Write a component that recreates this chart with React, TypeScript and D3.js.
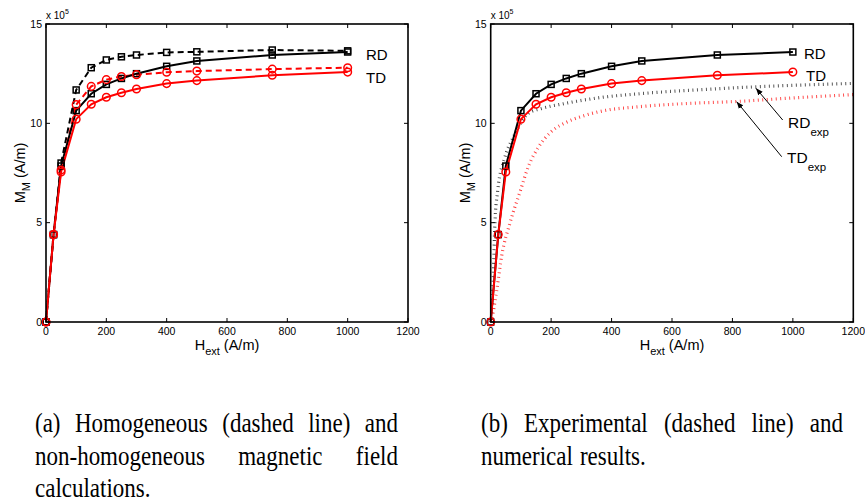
import React, { useEffect, useRef } from "react";
import * as d3 from "d3";

// Data (M in units of 1e5 A/m)
const H = [0, 25, 50, 100, 150, 200, 250, 300, 400, 500, 750, 1000];
const rdHom = [0, 4.4, 8.0, 11.68, 12.8, 13.19, 13.35, 13.44, 13.57, 13.6, 13.69, 13.65];
const rdNum = [0, 4.4, 7.85, 10.64, 11.49, 11.96, 12.26, 12.5, 12.87, 13.14, 13.44, 13.59];
const tdHom = [0, 4.4, 7.65, 10.94, 11.86, 12.2, 12.36, 12.45, 12.57, 12.63, 12.73, 12.8];
const tdNum = [0, 4.4, 7.55, 10.21, 10.96, 11.31, 11.54, 11.73, 12.0, 12.15, 12.42, 12.58];

const rdExpH = [0, 3, 9, 14, 23, 47, 75, 124, 169, 246, 345, 500, 700, 880, 1200];
const rdExpM = [0, 0.45, 2.6, 5.0, 6.6, 8.3, 9.3, 10.5, 10.75, 11.0, 11.26, 11.5, 11.7, 11.84, 12.01];
const tdExpH = [0, 5, 20, 36, 64, 97, 124, 158, 202, 257, 312, 369, 494, 650, 814, 1000, 1200];
const tdExpM = [0, 0.27, 1.6, 3.3, 5.0, 6.55, 7.8, 8.8, 9.6, 10.1, 10.4, 10.62, 10.84, 11.0, 11.1, 11.28, 11.45];

const xTicks = [0, 200, 400, 600, 800, 1000, 1200];
const yTicks = [0, 5, 10, 15];

const captionA = [
  ["(a)", "Homogeneous", "(dashed", "line)", "and"],
  ["non-homogeneous", "magnetic", "field"],
  ["calculations."],
];
const captionB = [
  ["(b)", "Experimental", "(dashed", "line)", "and"],
  ["numerical", "results."],
];

const SANS = "Liberation Sans, Arial, Helvetica, sans-serif";
const SERIF = "Liberation Serif, Times New Roman, serif";

const Y_TOP = 24;
const Y_BOT = 322;

type PanelProps = { x0: number; x1: number; hom: boolean; exp: boolean };

function Panel({ x0, x1, hom, exp }: PanelProps) {
  const x = d3.scaleLinear().domain([0, 1200]).range([x0, x1]);
  const y = d3.scaleLinear().domain([0, 15]).range([Y_BOT, Y_TOP]);
  const line = d3
    .line<[number, number]>()
    .x((d) => x(d[0]))
    .y((d) => y(d[1]));
  const smooth = d3
    .line<[number, number]>()
    .x((d) => x(d[0]))
    .y((d) => y(d[1]))
    .curve(d3.curveMonotoneX);
  const pts = (vals: number[]) => H.map((h, i) => [h, vals[i]] as [number, number]);
  const tk = 4;

  const squares = (vals: number[], key: string) =>
    pts(vals).map((p, i) => (
      <rect
        key={key + i}
        x={x(p[0]) - 3}
        y={y(p[1]) - 3}
        width={6}
        height={6}
        fill="none"
        stroke="#000"
        strokeWidth={1.5}
      />
    ));
  const circles = (vals: number[], key: string) =>
    pts(vals).map((p, i) => (
      <circle key={key + i} cx={x(p[0])} cy={y(p[1])} r={3.8} fill="none" stroke="#ff0000" strokeWidth={1.5} />
    ));

  const cx = (x0 + x1) / 2;
  return (
    <g>
      {exp && (
        <g>
          <path
            d={smooth(rdExpH.map((h, i) => [h, rdExpM[i]] as [number, number])) || ""}
            fill="none"
            stroke="#444"
            strokeWidth={3.2}
            strokeDasharray="0.9 3.6"
          />
          <path
            d={smooth(tdExpH.map((h, i) => [h, tdExpM[i]] as [number, number])) || ""}
            fill="none"
            stroke="#ff3a3a"
            strokeWidth={3.2}
            strokeDasharray="0.9 3.6"
          />
        </g>
      )}
      {hom && (
        <g>
          <path d={line(pts(rdHom)) || ""} fill="none" stroke="#000" strokeWidth={2} strokeDasharray="6 4" />
          <path d={line(pts(tdHom)) || ""} fill="none" stroke="#ff0000" strokeWidth={2} strokeDasharray="6 4" />
        </g>
      )}
      <path d={line(pts(rdNum)) || ""} fill="none" stroke="#000" strokeWidth={2} />
      <path d={line(pts(tdNum)) || ""} fill="none" stroke="#ff0000" strokeWidth={2} />
      {hom && squares(rdHom, "rh")}
      {squares(rdNum, "rn")}
      {hom && circles(tdHom, "th")}
      {circles(tdNum, "tn")}

      <rect x={x0} y={Y_TOP} width={x1 - x0} height={Y_BOT - Y_TOP} fill="none" stroke="#000" strokeWidth={1.6} />
      {xTicks.map((t) => (
        <g key={"xt" + t}>
          <line x1={x(t)} x2={x(t)} y1={Y_BOT} y2={Y_BOT - tk} stroke="#000" strokeWidth={1} />
          <line x1={x(t)} x2={x(t)} y1={Y_TOP} y2={Y_TOP + tk} stroke="#000" strokeWidth={1} />
          <text x={x(t)} y={335} textAnchor="middle" style={{ fontFamily: SANS }} fontSize={10.5} fill="#000">
            {t}
          </text>
        </g>
      ))}
      {yTicks.map((t) => (
        <g key={"yt" + t}>
          <line x1={x0} x2={x0 + tk} y1={y(t)} y2={y(t)} stroke="#000" strokeWidth={1} />
          <line x1={x1} x2={x1 - tk} y1={y(t)} y2={y(t)} stroke="#000" strokeWidth={1} />
          <text x={x0 - 4} y={y(t) + 3.8} textAnchor="end" style={{ fontFamily: SANS }} fontSize={10.5} fill="#000">
            {t}
          </text>
        </g>
      ))}
      <text x={x0} y={19} style={{ fontFamily: SANS }} fontSize={10} fill="#000">
        x 10
        <tspan fontSize={7} dy={-5}>
          5
        </tspan>
      </text>
      <text x={cx} y={350} textAnchor="middle" style={{ fontFamily: SANS }} fontSize={14.5} fill="#000">
        H
        <tspan fontSize={11} dy={5}>
          ext
        </tspan>
        <tspan dy={-5}> (A/m)</tspan>
      </text>
      <text
        transform={`translate(${x0 - 21},${(Y_TOP + Y_BOT) / 2}) rotate(-90)`}
        textAnchor="middle"
        style={{ fontFamily: SANS }}
        fontSize={14.5}
        fill="#000"
      >
        M
        <tspan fontSize={11} dy={5}>
          M
        </tspan>
        <tspan dy={-5}> (A/m)</tspan>
      </text>
    </g>
  );
}

function Caption({ lines, x0, x1, y0 }: { lines: string[][]; x0: number; x1: number; y0: number }) {
  const ref = useRef<SVGGElement>(null);
  useEffect(() => {
    const g = d3.select(ref.current);
    g.selectAll("*").remove();
    lines.forEach((words, li) => {
      const yy = y0 + li * 32.5;
      const nodes = words.map((w) =>
        g
          .append("text")
          .attr("x", 0)
          .attr("y", 0)
          .style("font-family", SERIF)
          .attr("font-size", 23)
          .attr("fill", "#000")
          .text(w)
      );
      const widths = nodes.map((n) => (n.node() as SVGTextElement).getComputedTextLength());
      const justify = li < lines.length - 1;
      const total = d3.sum(widths);
      const gap = justify && words.length > 1 ? (x1 - x0 - total) / (words.length - 1) : 7;
      let cur = x0;
      nodes.forEach((n, i) => {
        n.attr("transform", `translate(${cur},${yy}) scale(1,1.22)`);
        cur += widths[i] + gap;
      });
    });
  }, [lines, x0, x1, y0]);
  return <g ref={ref} />;
}

export default function App() {
  return (
    <svg width={865} height={504} style={{ position: "absolute", left: 0, top: 0, background: "#fff" }}>
      <rect x={0} y={0} width={865} height={504} fill="#fff" />
      <Panel x0={46} x1={408} hom={true} exp={false} />
      <Panel x0={490.7} x1={853.3} hom={false} exp={true} />
      <text x={366} y={60} style={{ fontFamily: SANS }} fontSize={15} fill="#000">RD</text>
      <text x={366} y={83} style={{ fontFamily: SANS }} fontSize={15} fill="#000">TD</text>
      <text x={804} y={59} style={{ fontFamily: SANS }} fontSize={15} fill="#000">RD</text>
      <text x={806} y={81} style={{ fontFamily: SANS }} fontSize={15} fill="#000">TD</text>
      <defs>
        <marker id="ah" viewBox="0 0 10 10" refX={10} refY={5} markerWidth={7} markerHeight={7} orient="auto">
          <path d="M0,1 L10,5 L0,9 z" fill="#000" />
        </marker>
      </defs>
      <line x1={782.7} y1={120} x2={756} y2={88.3} stroke="#000" strokeWidth={1} markerEnd="url(#ah)" />
      <line x1={781.7} y1={156.7} x2={736.7} y2={101.7} stroke="#000" strokeWidth={1} markerEnd="url(#ah)" />
      <text x={788} y={128} style={{ fontFamily: SANS }} fontSize={15.5} fill="#000">
        RD
        <tspan fontSize={11.5} dy={8}>exp</tspan>
      </text>
      <text x={787} y={163} style={{ fontFamily: SANS }} fontSize={15.5} fill="#000">
        TD
        <tspan fontSize={11.5} dy={8}>exp</tspan>
      </text>
      <Caption lines={captionA} x0={35} x1={398} y0={432} />
      <Caption lines={captionB} x0={481} x1={843} y0={432} />
    </svg>
  );
}
